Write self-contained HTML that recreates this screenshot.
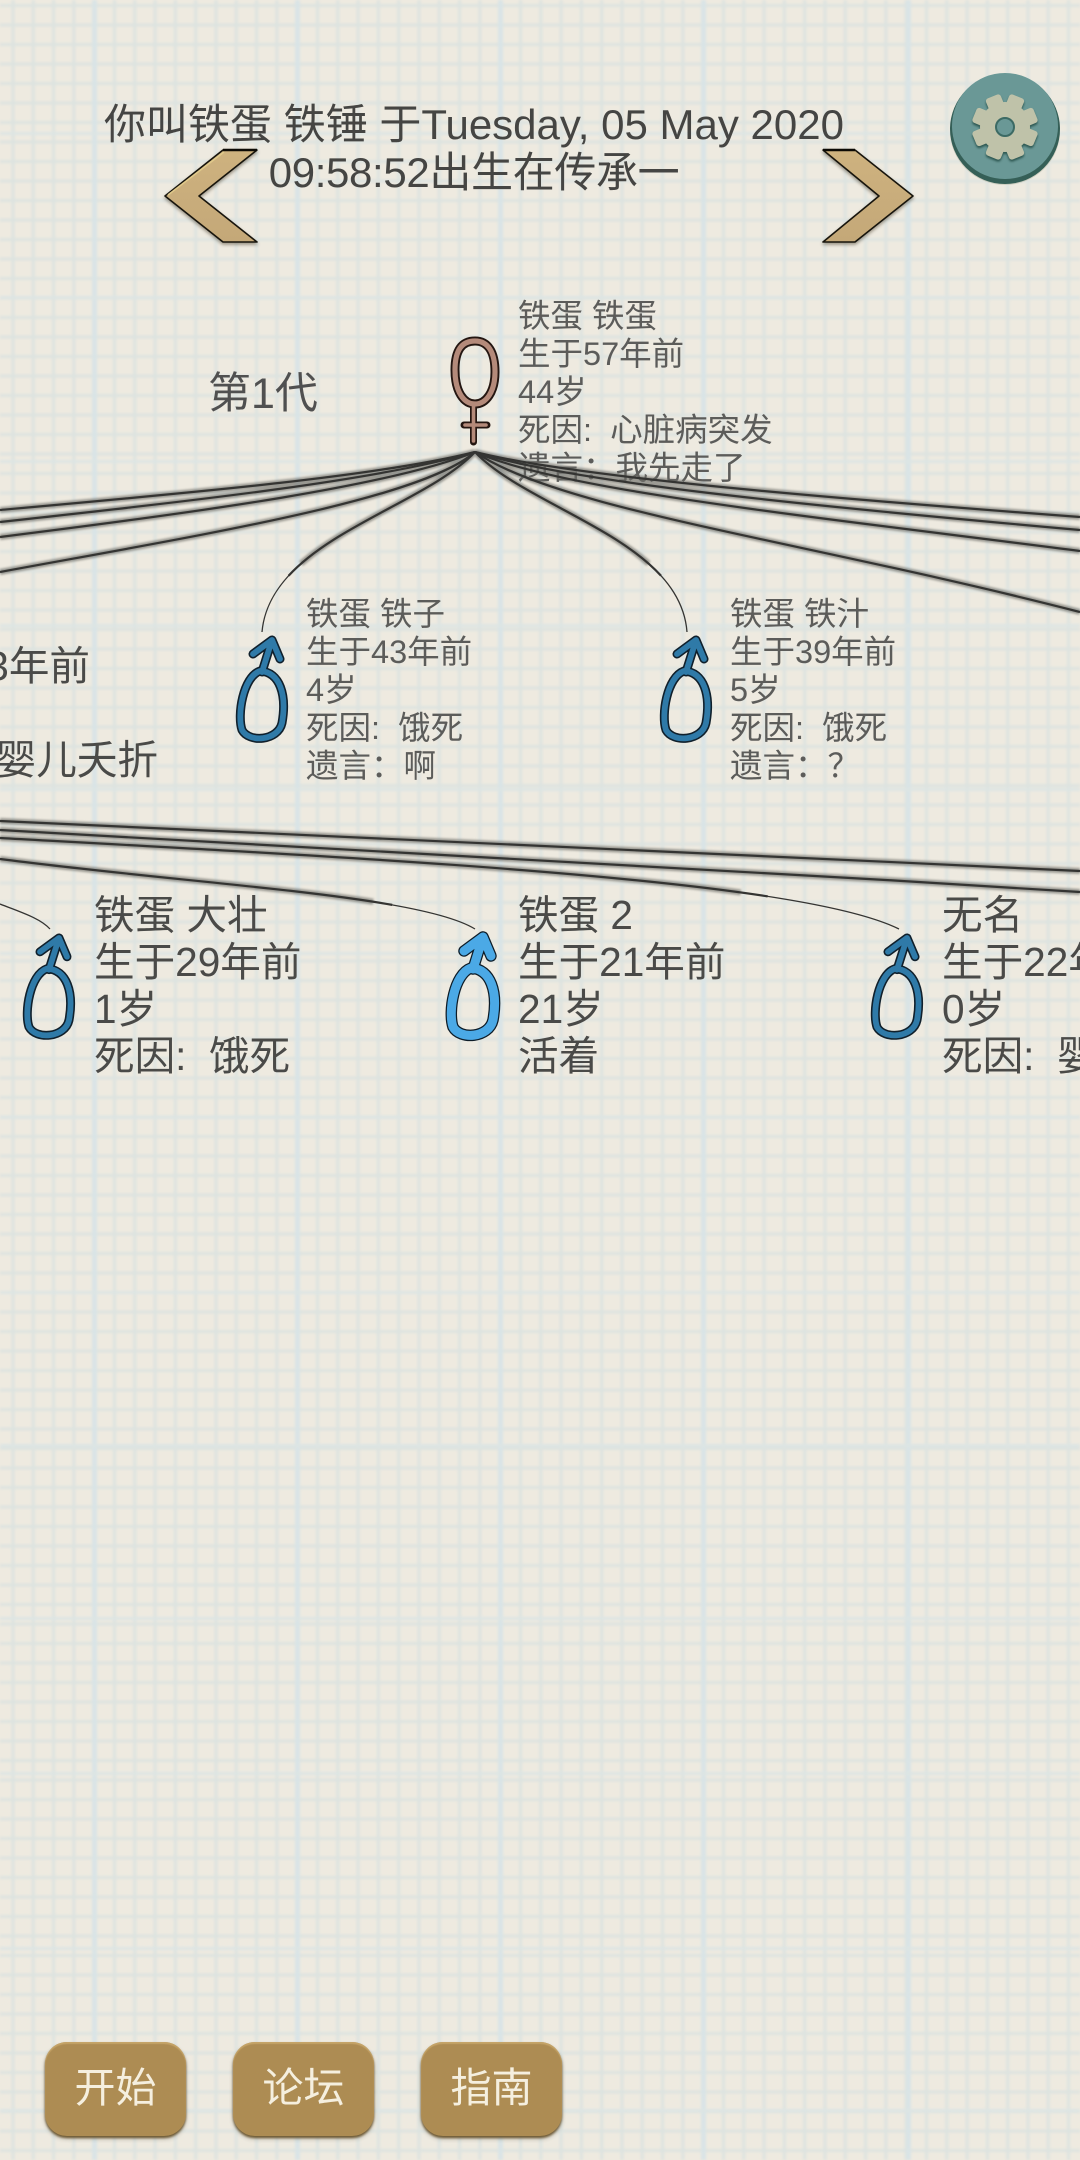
<!DOCTYPE html>
<html lang="zh">
<head>
<meta charset="utf-8">
<title>传承</title>
<style>
html,body{margin:0;padding:0;width:1080px;height:2160px;overflow:hidden;background:#ece9df}
body{position:relative;font-family:"Liberation Sans","Noto Sans CJK SC",sans-serif}
svg.layer{position:absolute;left:0;top:0}
.t{position:absolute;white-space:nowrap}
.s{font-size:32.5px;line-height:38px;color:#5c5c5a}
.b{font-size:40.6px;line-height:47px;color:#4a4a48}
.head{left:0;top:101px;width:948px;text-align:center;font-size:42px;line-height:48px;color:#454543}
.gen{left:208px;top:368px;font-size:43px;line-height:52px;color:#505050}
.btn{position:absolute;top:2042px;width:141px;height:94px;border-radius:22px;background:#ad8c53;color:#f5efdf;font-size:41px;line-height:93px;text-align:center;box-shadow:0 2px 2px #6f5a34,0 3px 4px rgba(60,50,30,.3),inset 0 2px 1px #c5a468}
</style>
</head>
<body>
<svg class="layer" width="1080" height="2160" viewBox="0 0 1080 2160" style="z-index:0">
<defs>
<filter id="bl" x="-2%" y="-2%" width="104%" height="104%"><feGaussianBlur stdDeviation="1.2"/></filter>
<pattern id="mv" patternUnits="userSpaceOnUse" x="2" y="0" width="20.3" height="100"><rect x="9.5" width="3" height="100" fill="#dde3e0"/></pattern>
<pattern id="mh" patternUnits="userSpaceOnUse" x="0" y="4" width="100" height="19.5"><rect y="0" x="0" width="100" height="3" fill="#dde3e0"/></pattern>
</defs>
<rect width="1080" height="2160" fill="#eeeae0"/>
<g filter="url(#bl)">
<rect width="1080" height="2160" fill="url(#mv)"/>
<rect width="1080" height="2160" fill="url(#mh)"/>
<g fill="#d9e4e6">
<rect x="92" y="0" width="5" height="2160"/><rect x="295" y="0" width="5" height="2160"/><rect x="498" y="0" width="5" height="2160"/><rect x="701" y="0" width="5" height="2160"/><rect x="906" y="0" width="5" height="2160"/>
</g>
<g fill="#dde5e4">
<rect y="132" x="0" width="1080" height="3"/><rect y="296" x="0" width="1080" height="3"/><rect y="460" x="0" width="1080" height="3"/><rect y="624" x="0" width="1080" height="3"/><rect y="788" x="0" width="1080" height="3"/><rect y="952" x="0" width="1080" height="3"/><rect y="1116" x="0" width="1080" height="3"/><rect y="1291" x="0" width="1080" height="3"/><rect y="1444" x="0" width="1080" height="3"/><rect y="1617" x="0" width="1080" height="3"/><rect y="1772" x="0" width="1080" height="3"/><rect y="1947" x="0" width="1080" height="3"/><rect y="2109" x="0" width="1080" height="3"/>
</g>
</g>
</svg>

<div class="t head">你叫铁蛋 铁锤 于Tuesday, 05 May 2020<br><span style="letter-spacing:-.35px">09:58:52出生在传承一</span></div>
<div class="t gen">第1代</div>

<div class="t s" style="left:518px;top:297px">铁蛋 铁蛋<br>生于57年前<br>44岁<br>死因:&nbsp;&nbsp;心脏病突发<br>遗言：我先走了</div>
<div class="t s" style="left:306px;top:595px">铁蛋 铁子<br>生于43年前<br>4岁<br>死因:&nbsp;&nbsp;饿死<br>遗言：啊</div>
<div class="t s" style="left:730px;top:595px">铁蛋 铁汁<br>生于39年前<br>5岁<br>死因:&nbsp;&nbsp;饿死<br>遗言：？</div>

<div class="t b" style="right:990px;top:643px;text-align:right">生于33年前</div>
<div class="t b" style="right:922px;top:737px;text-align:right">死因:&nbsp;&nbsp;婴儿夭折</div>

<div class="t b" style="left:94px;top:892px">铁蛋 大壮<br>生于29年前<br>1岁<br>死因:&nbsp;&nbsp;饿死</div>
<div class="t b" style="left:518px;top:892px">铁蛋 2<br>生于21年前<br>21岁<br>活着</div>
<div class="t b" style="left:942px;top:892px">无名<br>生于22年前<br>0岁<br>死因:&nbsp;&nbsp;婴儿夭折</div>

<svg class="layer" width="1080" height="2160" viewBox="0 0 1080 2160" style="z-index:2">
<defs>
<filter id="sb" x="-5%" y="-50%" width="110%" height="200%"><feGaussianBlur stdDeviation="1.1"/></filter>
<linearGradient id="ch" x1="0" y1="0" x2="0" y2="1"><stop offset="0" stop-color="#ceb27f"/><stop offset="1" stop-color="#c4a878"/></linearGradient>
<g id="male">
<g fill="none" stroke-linecap="round" stroke-linejoin="round" stroke="#10202c" stroke-width="9">
<path d="M24 36C7 42 1 80 6 95C13 108 42 106 46 88C51 60 44 37 24 36Z"/>
<path d="M26 37L36 5M17 19L36 5L44 24"/>
</g>
<g fill="none" stroke-linecap="round" stroke-linejoin="round" stroke="#2f7aa8" stroke-width="5.8">
<path d="M24 36C7 42 1 80 6 95C13 108 42 106 46 88C51 60 44 37 24 36Z"/>
<path d="M26 37L36 5M17 19L36 5L44 24"/>
</g>
</g>
</defs>

<g fill="none" stroke="#6d6d68" stroke-width="6" opacity=".65" filter="url(#sb)">
<path d="M475 452C380 476 200 492 0 510"/>
<path d="M475 452C380 480 200 500 0 522"/>
<path d="M475 452C390 486 200 512 0 537"/>
<path d="M475 452C420 500 200 535 0 572"/>
<path pathLength="100" stroke-dasharray="72 100" d="M475 452C420 510 270 540 262 632"/>
<path pathLength="100" stroke-dasharray="72 100" d="M475 452C530 510 680 540 687 632"/>
<path d="M475 452C570 476 800 496 1080 517"/>
<path d="M475 452C570 482 800 505 1080 530"/>
<path d="M475 452C560 490 800 515 1080 551"/>
<path d="M475 452C560 510 800 540 1080 612"/>
<path d="M0 821C300 834 700 853 1080 871"/>
<path d="M0 830C300 846 700 868 1080 892"/>
<path pathLength="100" stroke-dasharray="82 100" d="M0 838C400 860 800 880 899 929"/>
<path pathLength="100" stroke-dasharray="78 100" d="M0 859C200 885 420 895 475 929"/>
</g>
<g fill="none" stroke="#343432" stroke-width="1.3">
<path d="M475 452C420 510 270 540 262 632"/>
<path d="M475 452C530 510 680 540 687 632"/>
<path d="M0 838C400 860 800 880 899 929"/>
<path d="M0 859C200 885 420 895 475 929"/>
<path d="M0 904C20 912 40 918 50 929"/>
</g>
<g fill="none" stroke="#343432" stroke-width="2.2">
<path d="M475 452C380 476 200 492 0 510"/>
<path d="M475 452C380 480 200 500 0 522"/>
<path d="M475 452C390 486 200 512 0 537"/>
<path d="M475 452C420 500 200 535 0 572"/>
<path pathLength="100" stroke-dasharray="78 100" d="M475 452C420 510 270 540 262 632"/>
<path pathLength="100" stroke-dasharray="78 100" d="M475 452C530 510 680 540 687 632"/>
<path d="M475 452C570 476 800 496 1080 517"/>
<path d="M475 452C570 482 800 505 1080 530"/>
<path d="M475 452C560 490 800 515 1080 551"/>
<path d="M475 452C560 510 800 540 1080 612"/>
<path d="M0 821C300 834 700 853 1080 871"/>
<path d="M0 830C300 846 700 868 1080 892"/>
<path pathLength="100" stroke-dasharray="85 100" d="M0 838C400 860 800 880 899 929"/>
<path pathLength="100" stroke-dasharray="82 100" d="M0 859C200 885 420 895 475 929"/>
</g>

<g style="filter:drop-shadow(0 2px 1.5px rgba(50,40,20,.45))">
<polygon points="165,196 223,150 257,150 199,196 257,242 223,242" fill="url(#ch)" stroke="#17140c" stroke-width="1.6" stroke-linejoin="round"/>
<path d="M223 150H257" stroke="#0c0a05" stroke-width="2.6"/>
<path d="M168 195L224 152" stroke="#e0c98a" stroke-width="1.6" fill="none"/>
<polygon points="913,196 855,150 823,150 879,196 823,242 855,242" fill="url(#ch)" stroke="#17140c" stroke-width="1.6" stroke-linejoin="round"/>
<path d="M823 150H855" stroke="#0c0a05" stroke-width="2.6"/>
</g>

<g>
<ellipse cx="1005" cy="131" rx="55" ry="54" fill="#b6b8a4" opacity=".5"/>
<circle cx="1005" cy="129" r="55" fill="#355f57"/>
<circle cx="1005" cy="126" r="53" fill="#6a9896"/>
<g transform="translate(1005 127)" style="filter:drop-shadow(0 2px 1px #2b554f)">
<g fill="#bfc2a9">
<circle r="25"/>
<rect x="-8" y="-33" width="16" height="16" rx="3" transform="rotate(22.5)"/>
<rect x="-8" y="-33" width="16" height="16" rx="3" transform="rotate(67.5)"/>
<rect x="-8" y="-33" width="16" height="16" rx="3" transform="rotate(112.5)"/>
<rect x="-8" y="-33" width="16" height="16" rx="3" transform="rotate(157.5)"/>
<rect x="-8" y="-33" width="16" height="16" rx="3" transform="rotate(202.5)"/>
<rect x="-8" y="-33" width="16" height="16" rx="3" transform="rotate(247.5)"/>
<rect x="-8" y="-33" width="16" height="16" rx="3" transform="rotate(292.5)"/>
<rect x="-8" y="-33" width="16" height="16" rx="3" transform="rotate(337.5)"/>
</g>
<circle r="9" fill="#6a9896" stroke="#3c6a64" stroke-width="2"/>
</g>
</g>

<g fill="none" stroke-linecap="round">
<path d="M475 341C488 341 495 352 495 372C495 392 486 404 475 404C464 404 455 392 455 370C455 350 462 341 475 341Z" stroke="#241611" stroke-width="9"/>
<path d="M473.5 405V442M464 425H487" stroke="#241611" stroke-width="7"/>
<path d="M475 341C488 341 495 352 495 372C495 392 486 404 475 404C464 404 455 392 455 370C455 350 462 341 475 341Z" stroke="#b48a7a" stroke-width="5.2"/>
<path d="M473.5 405V441M465 425H486" stroke="#b48a7a" stroke-width="3.6"/>
</g>

<use href="#male" transform="translate(236 635)"/>
<use href="#male" transform="translate(660 635)"/>
<use href="#male" transform="translate(23 933) scale(1 .99)"/>
<use href="#male" transform="translate(871 933) scale(1 .99)"/>
<g fill="none" stroke-linecap="round" stroke-linejoin="round">
<g transform="translate(447 932)" stroke="#0d1c28" stroke-width="11.5">
<path d="M24 36C7 42 1 80 6 95C13 108 42 106 46 88C51 60 44 37 24 36Z"/>
<path d="M26 37L36 5M17 19L36 5L44 24"/>
</g>
<g transform="translate(447 932)" stroke="#4ba9e6" stroke-width="9">
<path d="M24 36C7 42 1 80 6 95C13 108 42 106 46 88C51 60 44 37 24 36Z"/>
<path d="M26 37L36 5M17 19L36 5L44 24"/>
</g>
</g>
</svg>

<div class="btn" style="left:45px">开始</div>
<div class="btn" style="left:233px">论坛</div>
<div class="btn" style="left:421px">指南</div>
</body>
</html>
